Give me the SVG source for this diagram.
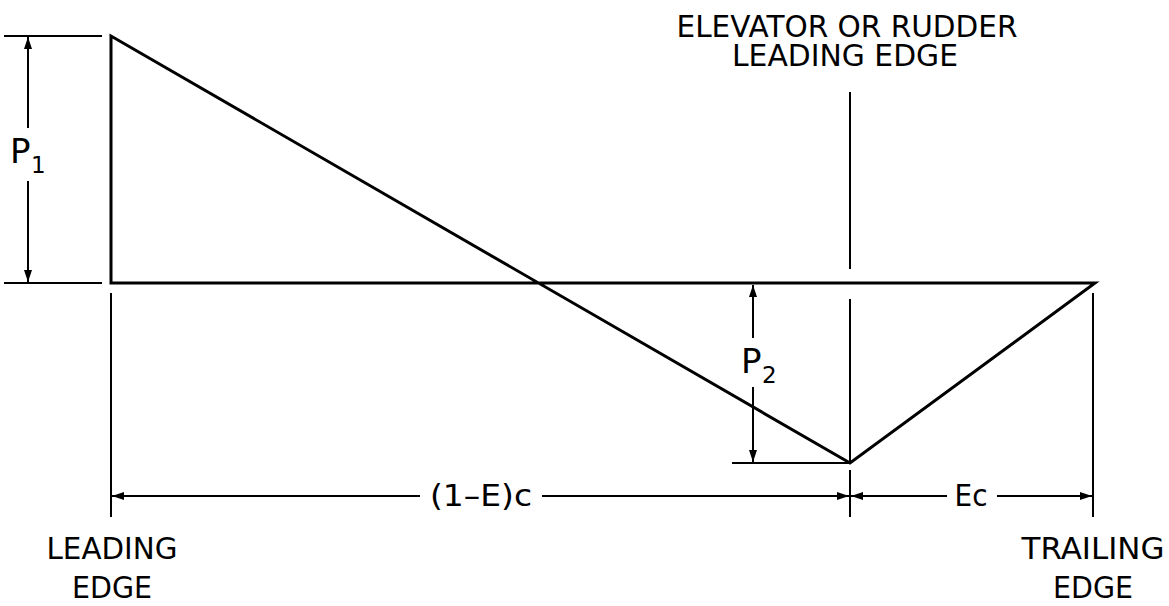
<svg xmlns="http://www.w3.org/2000/svg" width="1169" height="606" viewBox="0 0 1169 606">
<style>
.thick{stroke:#000;stroke-width:3;fill:none;stroke-linecap:square}
.thin{stroke:#000;stroke-width:2;fill:none}
.lbl{font-family:"DejaVu Sans","Liberation Sans",sans-serif;font-size:30px;fill:#000}
.big{font-family:"DejaVu Sans","Liberation Sans",sans-serif;font-size:34px;fill:#000}
.sub{font-size:23px}
</style>
<defs>
<marker id="arr" viewBox="0 0 12 8" refX="12" refY="4" markerWidth="12" markerHeight="8" markerUnits="userSpaceOnUse" orient="auto">
<path d="M0,0 L12,4 L0,8 Z" fill="#000"/>
</marker>
</defs>
<rect width="1169" height="606" fill="#fff"/>
<g id="load-diagram">
<path class="thick" d="M111,283 L111,36 L850,463 L1095,283 Z"/>
</g>
<g id="connectors">
<line class="thin" x1="4" y1="36" x2="102" y2="36"/>
<line class="thin" x1="4" y1="283" x2="102" y2="283"/>
<line class="thin" x1="28" y1="128" x2="28" y2="37" marker-end="url(#arr)"/>
<line class="thin" x1="28" y1="181" x2="28" y2="282" marker-end="url(#arr)"/>
<line class="thin" x1="732" y1="463" x2="850" y2="463"/>
<line class="thin" x1="753" y1="338" x2="753" y2="285" marker-end="url(#arr)"/>
<line class="thin" x1="753" y1="387" x2="753" y2="462" marker-end="url(#arr)"/>
<line class="thin" x1="111" y1="293" x2="111" y2="517"/>
<line class="thin" x1="850" y1="92" x2="850" y2="269"/>
<line class="thin" x1="850" y1="299" x2="850" y2="463"/>
<line class="thin" x1="850" y1="470" x2="850" y2="517"/>
<line class="thin" x1="1093" y1="293" x2="1093" y2="517"/>
<line class="thin" x1="420" y1="496" x2="112" y2="496" marker-end="url(#arr)"/>
<line class="thin" x1="542" y1="496" x2="849" y2="496" marker-end="url(#arr)"/>
<line class="thin" x1="947" y1="496" x2="851" y2="496" marker-end="url(#arr)"/>
<line class="thin" x1="997" y1="496" x2="1092" y2="496" marker-end="url(#arr)"/>
</g>
<g id="labels">
<text class="lbl" text-anchor="middle"><tspan x="847" y="37" textLength="341" lengthAdjust="spacingAndGlyphs">ELEVATOR OR RUDDER</tspan><tspan x="845" y="66" textLength="226" lengthAdjust="spacingAndGlyphs">LEADING EDGE</tspan></text>
<text class="big" x="10" y="163">P<tspan class="sub" x="31" y="173">1</tspan></text>
<text class="big" x="741" y="373">P<tspan class="sub" x="762" y="383">2</tspan></text>
<text class="lbl" x="481" y="506" text-anchor="middle" textLength="102" lengthAdjust="spacingAndGlyphs">(1–E)c</text>
<text class="lbl" x="971" y="506" text-anchor="middle" textLength="33" lengthAdjust="spacingAndGlyphs">Ec</text>
<text class="lbl" text-anchor="middle"><tspan x="112" y="559" textLength="131" lengthAdjust="spacingAndGlyphs">LEADING</tspan><tspan x="112" y="598" textLength="80" lengthAdjust="spacingAndGlyphs">EDGE</tspan></text>
<text class="lbl" text-anchor="middle"><tspan x="1093" y="559" textLength="143" lengthAdjust="spacingAndGlyphs">TRAILING</tspan><tspan x="1093" y="598" textLength="80" lengthAdjust="spacingAndGlyphs">EDGE</tspan></text>
</g>
</svg>
